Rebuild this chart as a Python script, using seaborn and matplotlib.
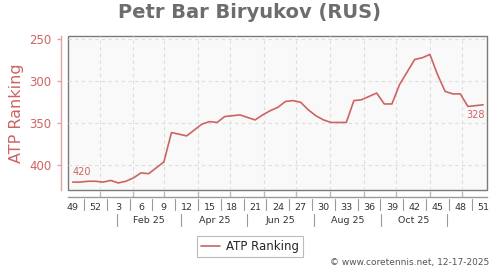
import matplotlib
matplotlib.use("Agg")
import matplotlib.pyplot as plt
import matplotlib.dates as mdates
import matplotlib.transforms as mtransforms
import seaborn as sns
import pandas as pd

# ---- data ----
week_numbers = [49, 50, 51, 52, 1, 2, 3, 4, 5, 6, 7, 8, 9, 10, 11, 12, 13, 14, 15,
                16, 17, 18, 19, 20, 21, 22, 23, 24, 25, 26, 27, 28, 29, 30, 31, 32,
                33, 34, 35, 36, 37, 38, 39, 40, 41, 42, 43, 44, 45, 46, 47, 48, 49,
                50, 51]
ranking = [420, 420, 419, 419, 420, 418, 421, 419, 415, 409, 410, 403, 396, 361,
           363, 365, 358, 351, 348, 349, 342, 341, 340, 343, 346, 340, 335, 331,
           324, 323, 325, 334, 341, 346, 349, 349, 349, 323, 322, 318, 314, 327,
           327, 304, 289, 274, 272, 268, 292, 312, 315, 315, 330, 329, 328]
start_date = "2024-12-07"
month_labels = ["Feb 25", "Apr 25", "Jun 25", "Aug 25", "Oct 25"]
month_band_edges = ["2025-01-17", "2025-03-17", "2025-05-17", "2025-07-17",
                    "2025-09-17", "2025-11-17"]
y_ticks = [250, 300, 350, 400]
series_name = "ATP Ranking"
title = "Petr Bar Biryukov (RUS)"
credit = "\u00a9 www.coretennis.net, 12-17-2025"

dates = pd.date_range(start=start_date, periods=len(ranking), freq="7D")
df = pd.DataFrame({"date": dates, "rank": ranking, "week": week_numbers})

# ---- style ----
LINE = "#cd6464"
PINK_AX = "#e0a4a4"
GRAY_TXT = "#333333"

sns.set_style("white")
plt.rcParams["font.family"] = ["DejaVu Sans"]

W, H = 500, 270
fig = plt.figure(figsize=(W / 100, H / 100), dpi=100)
ax = fig.add_axes([68 / W, 1 - 190 / H, (487 - 68) / W, (190 - 35.5) / H])

sns.lineplot(data=df, x="date", y="rank", ax=ax, color=LINE, linewidth=1.2,
             label=series_name)

ax.set_facecolor("#f9f9f9")
ax.patch.set_edgecolor("#7a7a7a")
ax.patch.set_linewidth(1.0)

ax.set_xlim(pd.Timestamp("2024-12-02 17:00"), pd.Timestamp("2025-12-23 14:00"))
ax.set_ylim(429.4, 245.5)

# spines
for s in ["top", "right"]:
    ax.spines[s].set_visible(False)
ax.spines["left"].set_position(("outward", 5))
ax.spines["left"].set_color(PINK_AX)
ax.spines["left"].set_linewidth(1.0)
ax.spines["bottom"].set_position(("outward", 5))
ax.spines["bottom"].set_color("#999999")
ax.spines["bottom"].set_linewidth(1.0)

# y axis
ax.set_yticks(y_ticks)
ax.set_yticklabels([str(v) for v in y_ticks])
ax.tick_params(axis="y", direction="out", length=3, width=1, color=PINK_AX,
               labelcolor=LINE, labelsize=8.5, pad=4, left=True)
ax.set_ylabel(series_name, color=LINE, fontsize=11.5, labelpad=4)

# x axis: month-start ticks/grid, week labels as minor ticks
ax.xaxis.remove_overlapping_locs = False
ax.xaxis.set_major_locator(mdates.MonthLocator())
ax.xaxis.set_major_formatter(plt.NullFormatter())
ax.tick_params(axis="x", which="major", direction="in", length=4, width=1,
               color="#bbbbbb", bottom=True)
label_idx = list(range(0, len(dates), 3))
ax.set_xticks([dates[i] for i in label_idx], minor=True)
ax.set_xticklabels([str(week_numbers[i]) for i in label_idx], minor=True)
ax.tick_params(axis="x", which="minor", length=0, labelsize=6.8,
               labelcolor=GRAY_TXT, pad=4)
ax.set_xlabel("")

ax.grid(True, which="major", color="#dddddd", linestyle=(0, (3, 3)), linewidth=0.8)
ax.set_axisbelow(True)

# separators between week labels
trans = mtransforms.blended_transform_factory(ax.transData, fig.transFigure)
for i in label_idx[:-1]:
    xm = dates[i] + (dates[i + 3] - dates[i]) / 2
    ax.plot([xm, xm], [1 - 199 / H, 1 - 210 / H], transform=trans, color="#999999",
            linewidth=0.8, clip_on=False)

# month row
edges = pd.to_datetime(month_band_edges)
for e in edges:
    ax.plot([e, e], [1 - 214 / H, 1 - 226 / H], transform=trans, color="#999999",
            linewidth=0.8, clip_on=False)
for k, lab in enumerate(month_labels):
    xm = edges[k] + (edges[k + 1] - edges[k]) / 2
    ax.text(xm, 1 - 220.5 / H, lab, transform=trans, ha="center", va="center",
            fontsize=6.8, color=GRAY_TXT)

# end labels
ax.annotate(str(ranking[0]), (dates[0], ranking[0]), xytext=(0, 4),
            textcoords="offset points", ha="left", va="bottom", fontsize=7,
            color=LINE)
ax.annotate(str(ranking[-1]), (dates[-1], ranking[-1]), xytext=(1, -4),
            textcoords="offset points", ha="right", va="top", fontsize=7,
            color=LINE)

# title
fig.text(0.5, 1 - 13 / H, title, ha="center", va="center", fontsize=14,
         fontweight="bold", color="#6d6d6d")

# legend
leg = ax.legend(loc="center", bbox_to_anchor=(0.5, 1 - 246.5 / H),
                bbox_transform=fig.transFigure, frameon=True, fancybox=False,
                edgecolor="#aaaaaa", fontsize=8.5, handlelength=1.6,
                borderpad=0.35, handletextpad=0.5)
leg.get_frame().set_linewidth(0.8)

# credit
fig.text(489 / W, 1 - 263 / H, credit, ha="right", va="center", fontsize=6.5,
         color="#555555")

fig.savefig("out.png", dpi=100)
